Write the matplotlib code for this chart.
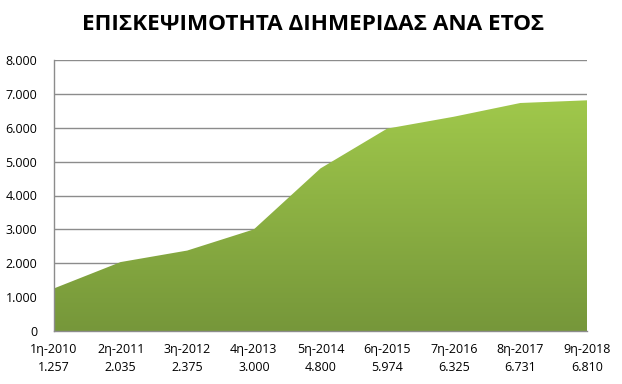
import numpy as np
import matplotlib.pyplot as plt
from matplotlib.colors import LinearSegmentedColormap
from matplotlib.ticker import FuncFormatter

plt.rcParams['font.family'] = ['Open Sans', 'DejaVu Sans']

# data
periods = ["1η-2010", "2η-2011", "3η-2012", "4η-2013", "5η-2014",
           "6η-2015", "7η-2016", "8η-2017", "9η-2018"]
visitors = [1257, 2035, 2375, 3000, 4800, 5974, 6325, 6731, 6810]
title = "ΕΠΙΣΚΕΨΙΜΟΤΗΤΑ ΔΙΗΜΕΡΙΔΑΣ ΑΝΑ ΕΤΟΣ"


def greek_thousands(v):
    # 6810 -> "6.810"
    return f"{int(round(v)):,}".replace(",", ".")


fig = plt.figure(figsize=(6.22, 3.84), dpi=100)
ax = fig.add_axes([54 / 622, 1 - 331 / 384, (587 - 54) / 622, (331 - 60) / 384])

x = np.arange(len(visitors))
ax.set_xlim(0, len(visitors) - 1)
ax.set_ylim(0, 8000)

# gradient-filled area
poly = ax.fill_between(x, visitors, 0, color='none', zorder=2)
cmap = LinearSegmentedColormap.from_list("grn", ["#76973a", "#a0c84b"])
grad = np.linspace(0, 1, 256).reshape(-1, 1)
img = ax.imshow(grad, cmap=cmap, aspect='auto', origin='lower',
                extent=[0, len(visitors) - 1, 0, max(visitors)], zorder=2)
img.set_clip_path(poly.get_paths()[0], transform=ax.transData)

ax.yaxis.set_major_locator(plt.MultipleLocator(1000))
ax.yaxis.set_major_formatter(FuncFormatter(lambda v, p: greek_thousands(v)))
ax.grid(axis='y', color='#8c8c8c', linewidth=1.0, zorder=1)
ax.set_axisbelow(True)

ax.set_xticks(x)
ax.set_xticklabels([f"{p}\n{greek_thousands(v)}" for p, v in zip(periods, visitors)],
                   linespacing=1.45)
ax.tick_params(axis='both', length=0, labelsize=9, colors='black')
ax.tick_params(axis='y', pad=12)
ax.tick_params(axis='x', pad=9)

for side in ['top', 'right']:
    ax.spines[side].set_visible(False)
for side in ['left', 'bottom']:
    ax.spines[side].set_color('#8c8c8c')
    ax.spines[side].set_linewidth(1.0)

fig.text(313 / 622, 1 - 24 / 384, title, ha='center', va='center',
         fontsize=16.2, fontweight='bold')

fig.savefig("out.png", dpi=100)
